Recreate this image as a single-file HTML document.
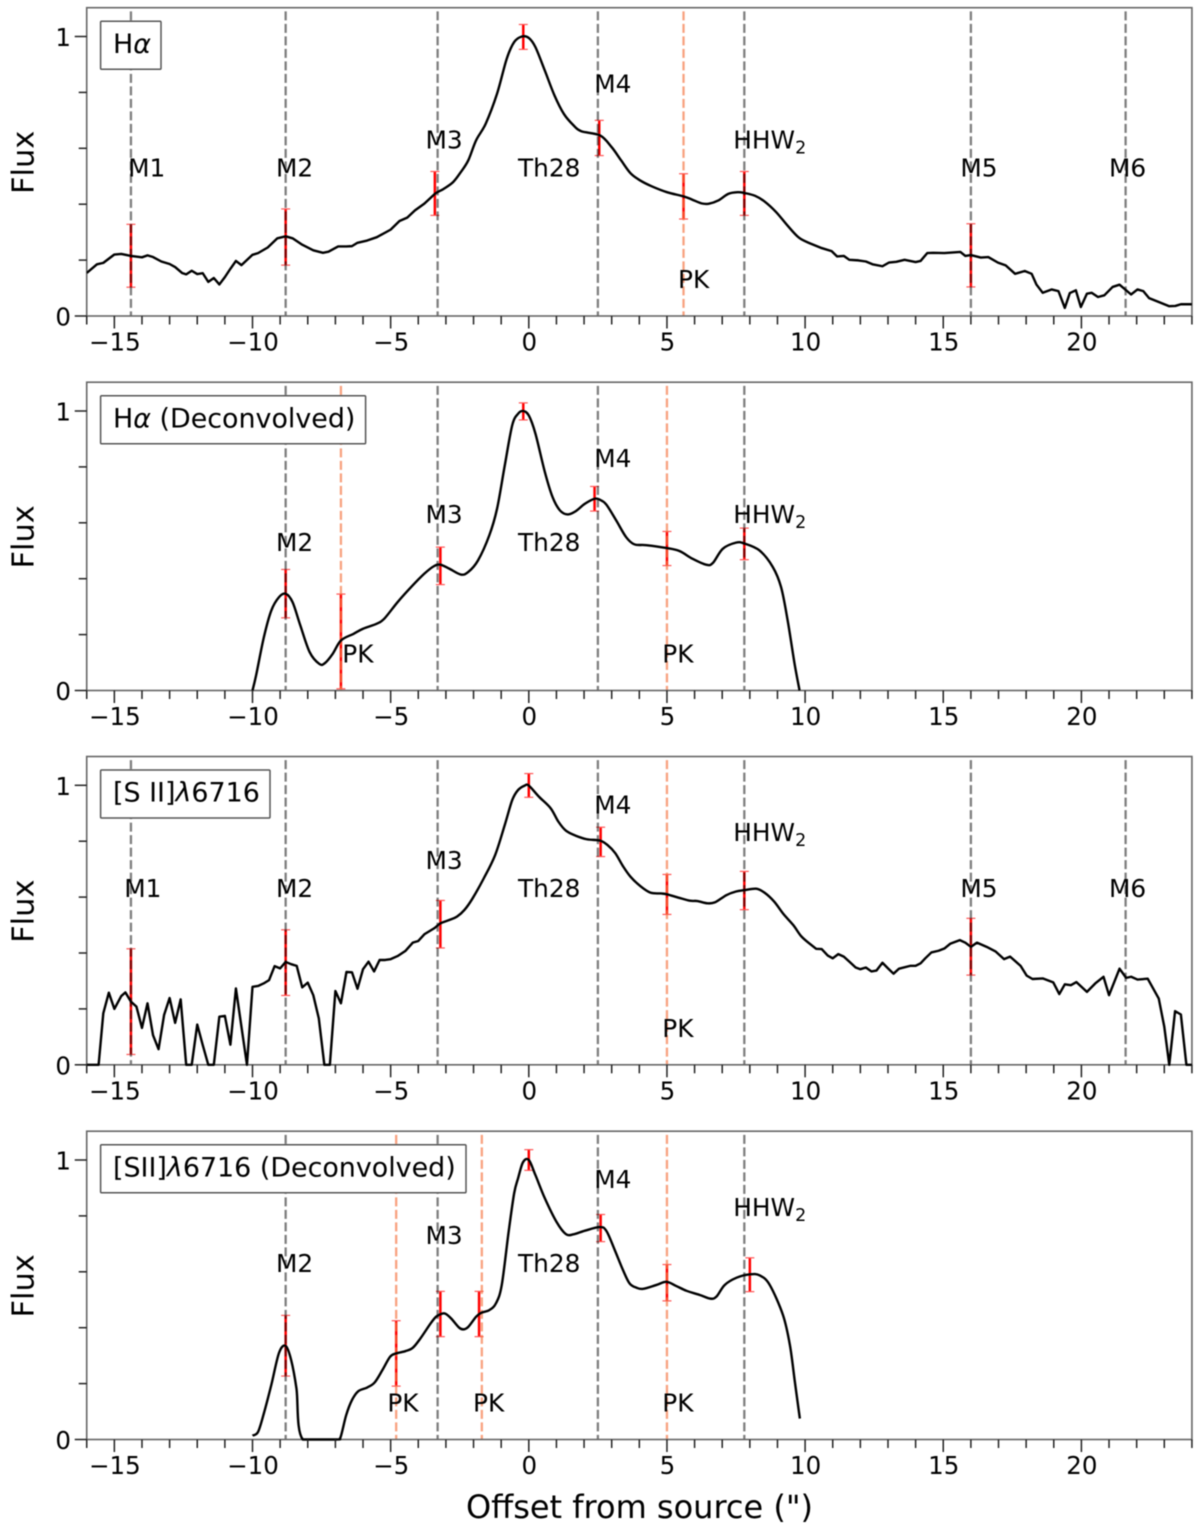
<!DOCTYPE html>
<html lang="en">
<head>
<meta charset="utf-8">
<title>Flux profiles along offset from source</title>
<style>
html,body{margin:0;padding:0;background:#fff;}
svg{display:block;filter:blur(0.4px);}
text{font-family:"DejaVu Sans","Liberation Sans",sans-serif;fill:#000;}
</style>
</head>
<body>
<svg id="chart" xmlns="http://www.w3.org/2000/svg" width="1200" height="1535" viewBox="0 0 1200 1535">
<text x="639.5" y="1518" text-anchor="middle" font-size="32">Offset from source (")</text>
</svg>
<script>
const xTickValues = [-15,-10,-5,0,5,10,15,20];
const xTickLabels = ['\u221215','\u221210','\u22125','0','5','10','15','20'];
const xMinorValues = [-16,-14,-13,-12,-11,-9,-8,-7,-6,-4,-3,-2,-1,1,2,3,4,6,7,8,9,11,12,13,14,16,17,18,19,21,22,23,24];
const yTickValues = [0,1];
const yTickLabels = ['0','1'];
const yMinorValues = [0.2,0.4,0.6,0.8];

/* Panel 1: H-alpha */
const halphaX = [-16,-15.63,-15.4,-15,-14.75,-14.4,-14,-13.8,-13.6,-13.3,-13,-12.8,-12.55,-12.4,-12.2,-12,-11.8,-11.6,-11.4,-11.2,-11,-10.8,-10.6,-10.4,-10,-9.8,-9.45,-9.1,-8.8,-8.55,-8.2,-7.8,-7.45,-7.25,-6.9,-6.6,-6.4,-6.2,-5.85,-5.5,-5,-4.68,-4.4,-4.12,-3.78,-3.4,-3.08,-2.74,-2.46,-2.19,-1.91,-1.56,-1.15,-0.8,-0.53,-0.25,0,0.24,0.58,0.93,1.27,1.62,1.9,2.58,3,3.34,3.68,4.03,4.45,5,5.6,5.9,6.25,6.52,6.87,7.22,7.56,7.81,8.19,8.53,8.95,9.36,9.78,10.2,10.6,10.96,11.16,11.4,11.6,11.93,12.2,12.44,12.8,13.03,13.3,13.6,14,14.18,14.42,14.63,15.04,15.62,15.8,16,16.36,16.63,16.98,17.26,17.6,17.95,18.2,18.37,18.6,18.92,19.17,19.4,19.58,19.8,19.98,20.2,20.37,20.6,20.83,21.13,21.38,21.8,22.03,22.24,22.45,22.8,23.18,23.4,23.6,24];
const halphaFlux = [0.154,0.185,0.19,0.22,0.222,0.215,0.21,0.217,0.211,0.195,0.186,0.175,0.154,0.149,0.162,0.15,0.153,0.122,0.136,0.113,0.139,0.169,0.197,0.182,0.219,0.225,0.245,0.278,0.285,0.278,0.255,0.235,0.226,0.23,0.249,0.249,0.25,0.262,0.27,0.282,0.309,0.34,0.352,0.378,0.402,0.437,0.455,0.479,0.515,0.557,0.628,0.688,0.795,0.92,0.98,1.0,0.995,0.962,0.878,0.789,0.723,0.682,0.661,0.646,0.604,0.557,0.511,0.485,0.464,0.443,0.428,0.417,0.403,0.402,0.414,0.437,0.443,0.44,0.43,0.41,0.372,0.324,0.28,0.259,0.243,0.232,0.213,0.215,0.201,0.199,0.195,0.185,0.178,0.191,0.194,0.201,0.193,0.197,0.225,0.226,0.225,0.229,0.215,0.218,0.209,0.211,0.191,0.181,0.151,0.161,0.151,0.113,0.083,0.095,0.089,0.029,0.082,0.092,0.032,0.08,0.083,0.068,0.074,0.104,0.112,0.077,0.095,0.089,0.064,0.05,0.035,0.036,0.042,0.042];
const halphaErrX = [-14.4,-8.8,-3.4,-0.2,2.55,5.6,7.8,16];
const halphaErrHigh = [0.328,0.383,0.517,1.043,0.70,0.509,0.517,0.33];
const halphaErrLow = [0.103,0.182,0.36,0.954,0.574,0.347,0.36,0.104];
const halphaKnots = [-14.4,-8.8,-3.3,2.5,7.8,16,21.6];
const halphaPeaks = [5.6];
const halphaLabelText = ['M1','M2','M3','Th28','M4','HHW','M5','M6','PK'];
const halphaLabelX = [-14.5,-9.15,-3.74,-0.39,2.37,7.4,15.62,21.0,5.4];
const halphaLabelY = [0.5,0.5,0.6,0.5,0.8,0.6,0.5,0.5,0.1];

/* Panel 2: H-alpha deconvolved */
const halphaDeconX = [-10,-9.87,-9.59,-9.32,-9.04,-8.8,-8.55,-8.27,-7.93,-7.58,-7.38,-7.1,-6.8,-6.34,-6,-5.5,-5.23,-4.75,-4.26,-3.78,-3.43,-3.2,-2.88,-2.46,-2.19,-1.84,-1.43,-1.15,-0.87,-0.6,-0.39,-0.21,0,0.24,0.58,0.86,1.13,1.41,1.69,2.03,2.38,2.56,2.8,3.16,3.52,3.82,4.25,4.97,5.45,5.93,6.42,6.66,7.02,7.5,7.8,8.35,8.83,9.13,9.37,9.62,9.8];
const halphaDeconFlux = [0,0.054,0.19,0.286,0.334,0.346,0.316,0.233,0.137,0.095,0.098,0.131,0.179,0.203,0.221,0.239,0.257,0.316,0.37,0.418,0.445,0.45,0.436,0.415,0.424,0.465,0.555,0.65,0.805,0.949,0.99,1.0,0.984,0.919,0.782,0.692,0.644,0.63,0.641,0.668,0.686,0.683,0.666,0.609,0.549,0.523,0.52,0.51,0.499,0.471,0.45,0.456,0.507,0.529,0.526,0.501,0.442,0.37,0.25,0.095,0];
const halphaDeconErrX = [-8.8,-6.8,-3.2,-0.2,2.38,5,7.8];
const halphaDeconErrHigh = [0.433,0.345,0.513,1.029,0.73,0.569,0.581];
const halphaDeconErrLow = [0.26,0.006,0.379,0.968,0.642,0.447,0.468];
const halphaDeconKnots = [-8.8,-3.3,2.5,7.8];
const halphaDeconPeaks = [-6.8,5];
const halphaDeconLabelText = ['M2','M3','Th28','M4','HHW','PK','PK'];
const halphaDeconLabelX = [-9.15,-3.74,-0.39,2.37,7.4,-6.75,4.83];
const halphaDeconLabelY = [0.5,0.6,0.5,0.8,0.6,0.1,0.1];

/* Panel 3: [S II] 6716 */
const siiX = [-16,-15.57,-15.4,-15.2,-15,-14.75,-14.6,-14.4,-14.2,-14,-13.8,-13.6,-13.4,-13.2,-13,-12.8,-12.6,-12.4,-12.2,-12,-11.8,-11.6,-11.4,-11.2,-11,-10.8,-10.6,-10.4,-10.2,-10,-9.8,-9.6,-9.4,-9.2,-9,-8.8,-8.6,-8.4,-8.2,-8,-7.8,-7.6,-7.4,-7.2,-7,-6.8,-6.6,-6.4,-6.2,-6,-5.8,-5.6,-5.4,-5.2,-5,-4.75,-4.47,-4.2,-4,-3.78,-3.43,-3.2,-2.88,-2.6,-2.33,-2.05,-1.63,-1.22,-0.87,-0.6,-0.39,-0.15,0,0.37,0.79,1.07,1.34,1.69,2.1,2.58,2.85,3.13,3.4,3.68,4.03,4.4,4.79,5,5.42,5.83,6.1,6.45,6.73,7.15,7.5,7.81,8.23,8.53,8.88,9.22,9.57,9.85,10.12,10.4,10.6,10.82,11,11.2,11.4,11.6,11.83,12,12.2,12.4,12.58,12.8,13,13.2,13.4,13.8,14,14.18,14.35,14.57,14.83,15.04,15.25,15.6,15.8,16,16.22,16.57,16.9,17.2,17.42,17.8,18.02,18.23,18.6,18.98,19.2,19.4,19.62,19.82,20.2,20.5,20.8,21,21.38,21.62,21.8,22.03,22.4,22.8,23,23.18,23.39,23.6,23.8,24];
const siiFlux = [0,0,0.184,0.258,0.2,0.246,0.259,0.226,0.208,0.132,0.22,0.106,0.056,0.178,0.239,0.15,0.234,0,0,0.144,0.07,0,0,0.172,0.175,0.072,0.273,0.136,0,0.279,0.282,0.291,0.303,0.353,0.345,0.368,0.36,0.354,0.277,0.294,0.249,0.166,0,0,0.264,0.22,0.332,0.331,0.272,0.342,0.369,0.334,0.375,0.375,0.378,0.389,0.407,0.437,0.443,0.467,0.488,0.506,0.518,0.53,0.554,0.593,0.667,0.75,0.858,0.947,0.983,0.999,0.999,0.959,0.918,0.87,0.838,0.82,0.807,0.802,0.786,0.757,0.712,0.673,0.64,0.616,0.613,0.61,0.598,0.587,0.586,0.578,0.581,0.607,0.62,0.625,0.63,0.616,0.584,0.539,0.5,0.461,0.437,0.415,0.414,0.391,0.381,0.396,0.387,0.369,0.348,0.342,0.348,0.334,0.337,0.365,0.345,0.326,0.344,0.354,0.354,0.363,0.381,0.402,0.408,0.416,0.433,0.446,0.437,0.422,0.437,0.422,0.405,0.378,0.387,0.354,0.319,0.307,0.309,0.295,0.253,0.288,0.285,0.296,0.261,0.291,0.315,0.249,0.344,0.311,0.315,0.305,0.308,0.237,0.136,0,0.192,0.18,0,0];
const siiErrX = [-14.4,-8.8,-3.2,0,2.6,5,7.8,16];
const siiErrHigh = [0.415,0.483,0.588,1.042,0.85,0.681,0.692,0.524];
const siiErrLow = [0.037,0.248,0.418,0.957,0.745,0.538,0.555,0.321];
const siiKnots = [-14.4,-8.8,-3.3,2.5,7.8,16,21.6];
const siiPeaks = [5];
const siiLabelText = ['M1','M2','M3','Th28','M4','HHW','M5','M6','PK'];
const siiLabelX = [-14.64,-9.15,-3.74,-0.39,2.37,7.4,15.62,21.0,4.83];
const siiLabelY = [0.6,0.6,0.7,0.6,0.9,0.8,0.6,0.6,0.1];

/* Panel 4: [SII] 6716 deconvolved */
const siiDeconX = [-10,-9.8,-9.59,-9.32,-9.04,-8.8,-8.6,-8.41,-8.18,-6.96,-6.82,-6.61,-6.4,-6.17,-5.85,-5.58,-5.3,-5.02,-4.8,-4.47,-4.2,-3.92,-3.57,-3.36,-3.15,-3.02,-2.81,-2.53,-2.37,-2.19,-1.91,-1.73,-1.43,-1.19,-0.98,-0.73,-0.53,-0.39,-0.21,0,0.24,0.58,1,1.34,1.62,2.03,2.57,2.81,3.11,3.41,3.65,3.9,4.14,4.62,4.98,5.34,5.71,6.19,6.57,6.79,7.09,7.52,8,8.36,8.72,9.2,9.45,9.63,9.81];
const siiDeconFlux = [0.014,0.027,0.093,0.195,0.31,0.335,0.284,0.183,0,0,0.006,0.087,0.141,0.173,0.186,0.204,0.248,0.296,0.308,0.316,0.328,0.362,0.413,0.439,0.45,0.45,0.433,0.401,0.394,0.403,0.439,0.453,0.463,0.487,0.552,0.743,0.881,0.934,0.992,1.0,0.946,0.863,0.779,0.735,0.734,0.747,0.76,0.746,0.678,0.606,0.558,0.543,0.539,0.553,0.564,0.549,0.532,0.517,0.504,0.511,0.553,0.579,0.591,0.587,0.553,0.445,0.338,0.206,0.075];
const siiDeconErrX = [-8.8,-4.8,-3.2,-1.8,0,2.6,5,8];
const siiDeconErrHigh = [0.444,0.425,0.53,0.53,1.037,0.805,0.626,0.65];
const siiDeconErrLow = [0.227,0.191,0.368,0.368,0.963,0.708,0.496,0.529];
const siiDeconKnots = [-8.8,-3.3,2.5,7.8];
const siiDeconPeaks = [-4.8,-1.7,5];
const siiDeconLabelText = ['M2','M3','Th28','M4','HHW','PK','PK','PK'];
const siiDeconLabelX = [-9.15,-3.74,-0.39,2.37,7.4,-5.12,-2.02,4.83];
const siiDeconLabelY = [0.6,0.7,0.6,0.9,0.8,0.1,0.1,0.1];

const NS = 'http://www.w3.org/2000/svg';
const svg = document.getElementById('chart');
const xAt = v => 528.8 + 27.63 * v;
const X_MIN = -16, X_MAX = 24, Y_MAX = 1.103;

function mk(parent, tag, attrs) {
  const el = document.createElementNS(NS, tag);
  for (const k in attrs) el.setAttribute(k, attrs[k]);
  parent.appendChild(el);
  return el;
}

/* Catmull-Rom between pixel limits smoothFrom..smoothTo; straight segments elsewhere.
   Control points are clamped to the zero line so the curve never dips under the axis. */
function curvePath(pts, smoothFrom, smoothTo, floorY) {
  let d = 'M' + pts[0][0].toFixed(2) + ' ' + pts[0][1].toFixed(2);
  for (let i = 1; i < pts.length; i++) {
    const p0 = pts[Math.max(i - 2, 0)], p1 = pts[i - 1], p2 = pts[i], p3 = pts[Math.min(i + 1, pts.length - 1)];
    const smooth = p1[0] >= smoothFrom && p2[0] <= smoothTo;
    if (!smooth) { d += 'L' + p2[0].toFixed(2) + ' ' + p2[1].toFixed(2); continue; }
    const k = 1 / 6;
    d += 'C' + (p1[0] + (p2[0] - p0[0]) * k).toFixed(2) + ' ' + Math.min(p1[1] + (p2[1] - p0[1]) * k, floorY).toFixed(2) + ' ' +
         (p2[0] - (p3[0] - p1[0]) * k).toFixed(2) + ' ' + Math.min(p2[1] - (p3[1] - p1[1]) * k, floorY).toFixed(2) + ' ' +
         p2[0].toFixed(2) + ' ' + p2[1].toFixed(2);
  }
  return d;
}

function drawPanel(cfg) {
  const yAt = v => cfg.bottom - 279.5 * v;
  const top = yAt(Y_MAX), left = xAt(X_MIN), right = xAt(X_MAX);
  const g = mk(svg, 'g', {});
  
  
  const clipId = 'clip-' + cfg.name;
  const defs = mk(g, 'defs', {});
  const cp = mk(defs, 'clipPath', { id: clipId });
  mk(cp, 'rect', { x: left, y: top, width: right - left, height: cfg.bottom - top + 2 });

  /* error bars */
  cfg.errX.forEach((ex, i) => {
    const eg = mk(g, 'g', {});
    
    
    const px = xAt(ex), hi = yAt(cfg.errHigh[i]), lo = yAt(cfg.errLow[i]);
    mk(eg, 'line', { x1: px, x2: px, y1: hi, y2: lo, stroke: '#ff0000', 'stroke-width': 2.5 });
    mk(eg, 'line', { x1: px - 4.5, x2: px + 4.5, y1: hi, y2: hi, stroke: '#ff5555', 'stroke-width': 1.2 });
    mk(eg, 'line', { x1: px - 4.5, x2: px + 4.5, y1: lo, y2: lo, stroke: '#ff5555', 'stroke-width': 1.2 });
  });

  /* reference lines */
  cfg.knots.forEach(v => {
    const l = mk(g, 'line', { x1: xAt(v), x2: xAt(v), y1: yAt(1.09), y2: cfg.bottom, stroke: '#000', 'stroke-opacity': 0.5, 'stroke-width': 2.3, 'stroke-dasharray': '9 3.5' });
    
    
  });
  cfg.peaks.forEach(v => {
    const l = mk(g, 'line', { x1: xAt(v), x2: xAt(v), y1: yAt(1.09), y2: cfg.bottom, stroke: '#f4703c', 'stroke-opacity': 0.65, 'stroke-width': 2.3, 'stroke-dasharray': '9 3.5' });
    
    
  });

  /* frame */
  const frame = mk(g, 'rect', { x: left, y: top, width: right - left, height: cfg.bottom - top, fill: 'none', stroke: '#666', 'stroke-width': 1.6 });
  
  

  /* flux curve */
  const pts = cfg.x.map((v, i) => [xAt(v), yAt(cfg.y[i])]);
  const curve = mk(g, 'path', { d: curvePath(pts, xAt(cfg.smoothFrom), xAt(cfg.smoothTo), cfg.bottom), fill: 'none', stroke: '#000', 'stroke-width': 2.4, 'stroke-linejoin': 'round', 'clip-path': 'url(#' + clipId + ')' });
  
  

  /* x ticks */
  xMinorValues.forEach(v => {
    const t = mk(g, 'line', { x1: xAt(v), x2: xAt(v), y1: cfg.bottom, y2: cfg.bottom + 8.5, stroke: '#222', 'stroke-width': 1.5 });
    
    
  });
  xTickValues.forEach((v, i) => {
    const t = mk(g, 'line', { x1: xAt(v), x2: xAt(v), y1: cfg.bottom, y2: cfg.bottom + 12.5, stroke: '#222', 'stroke-width': 1.5 });
    
    
    const lab = mk(g, 'text', { x: xAt(v) + 0.5, y: cfg.bottom + 34.5, 'text-anchor': 'middle', 'font-size': 24.5 });
    
    
    lab.textContent = xTickLabels[i];
  });

  /* y ticks */
  yMinorValues.forEach(v => {
    const t = mk(g, 'line', { x1: left - 8, x2: left, y1: yAt(v), y2: yAt(v), stroke: '#222', 'stroke-width': 1.5 });
    
    
  });
  yTickValues.forEach((v, i) => {
    const t = mk(g, 'line', { x1: left - 12, x2: left, y1: yAt(v), y2: yAt(v), stroke: '#222', 'stroke-width': 1.5 });
    
    
    const lab = mk(g, 'text', { x: 71, y: yAt(v) + 9.5, 'text-anchor': 'end', 'font-size': 24.5 });
    
    
    lab.textContent = yTickLabels[i];
  });

  /* y title */
  const yc = (top + cfg.bottom) / 2 + 0.5;
  const yt = mk(g, 'text', { x: 33.5, y: yc, 'text-anchor': 'middle', 'font-size': 30.5, transform: 'rotate(-90 33.5 ' + yc + ')' });
  
  
  yt.textContent = 'Flux';

  /* feature labels */
  cfg.labelText.forEach((s, i) => {
    const t = mk(g, 'text', { x: xAt(cfg.labelX[i]), y: yAt(cfg.labelY[i]), 'font-size': 24.8 });
    
    
    t.textContent = s;
    if (s === 'HHW') {
      const sub = mk(t, 'tspan', { dy: 5, 'font-size': 17.5 });
      sub.textContent = '2';
    }
  });

  /* legend */
  const boxTop = top + 13.5;
  const lg = mk(g, 'g', {});
  
  
  mk(lg, 'rect', { x: 100.6, y: boxTop, width: cfg.legendWidth, height: 48, fill: '#fff', stroke: '#555', 'stroke-width': 1.5, rx: 1 });
  const lt = mk(lg, 'text', { x: 113, y: boxTop + 31.7, 'font-size': 26.9 });
  cfg.legend.forEach(part => {
    const sp = mk(lt, 'tspan', part[1] ? { 'font-style': 'italic' } : {});
    sp.textContent = part[0];
  });
}

drawPanel({ name: 'halpha', bottom: 316, x: halphaX, y: halphaFlux, smoothFrom: -3.5, smoothTo: 10.3,
  errX: halphaErrX, errHigh: halphaErrHigh, errLow: halphaErrLow, knots: halphaKnots, peaks: halphaPeaks,
  labelText: halphaLabelText, labelX: halphaLabelX, labelY: halphaLabelY,
  legend: [['H',0],['\u03b1',1]], legendWidth: 60.4 });
drawPanel({ name: 'halpha-deconvolved', bottom: 690.5, x: halphaDeconX, y: halphaDeconFlux, smoothFrom: -10, smoothTo: 10,
  errX: halphaDeconErrX, errHigh: halphaDeconErrHigh, errLow: halphaDeconErrLow, knots: halphaDeconKnots, peaks: halphaDeconPeaks,
  labelText: halphaDeconLabelText, labelX: halphaDeconLabelX, labelY: halphaDeconLabelY,
  legend: [['H',0],['\u03b1',1],[' (Deconvolved)',0]], legendWidth: 265 });
drawPanel({ name: 'sii-6716', bottom: 1064.8, x: siiX, y: siiFlux, smoothFrom: -3.5, smoothTo: 10.2,
  errX: siiErrX, errHigh: siiErrHigh, errLow: siiErrLow, knots: siiKnots, peaks: siiPeaks,
  labelText: siiLabelText, labelX: siiLabelX, labelY: siiLabelY,
  legend: [['[S II]',0],['\u03bb',1],['6716',0]], legendWidth: 169.4 });
drawPanel({ name: 'sii-6716-deconvolved', bottom: 1439.5, x: siiDeconX, y: siiDeconFlux, smoothFrom: -10, smoothTo: 10,
  errX: siiDeconErrX, errHigh: siiDeconErrHigh, errLow: siiDeconErrLow, knots: siiDeconKnots, peaks: siiDeconPeaks,
  labelText: siiDeconLabelText, labelX: siiDeconLabelX, labelY: siiDeconLabelY,
  legend: [['[SII]',0],['\u03bb',1],['6716 (Deconvolved)',0]], legendWidth: 365.4 });
</script>
</body>
</html>
